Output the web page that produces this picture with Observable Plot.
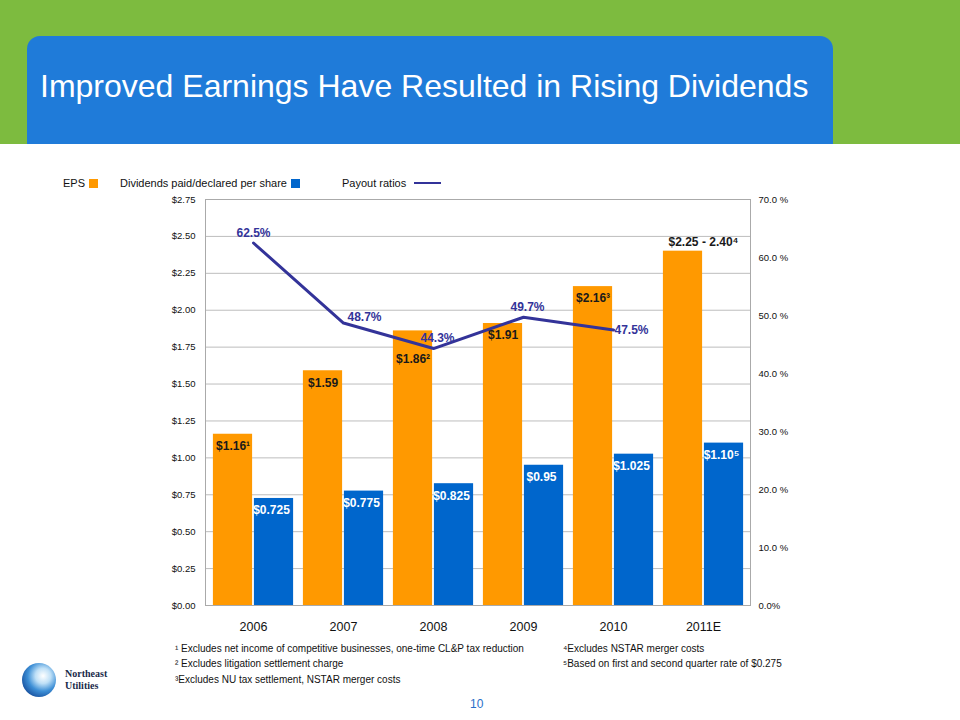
<!DOCTYPE html>
<html>
<head>
<meta charset="utf-8">
<script src="https://cdn.jsdelivr.net/npm/d3@7"></script>
<script src="https://cdn.jsdelivr.net/npm/@observablehq/plot@0.6"></script>
<style>
  html, body { margin: 0; padding: 0; background: #fff; }
  body { width: 960px; height: 720px; position: relative; overflow: hidden; font-family: "Liberation Sans", Arial, sans-serif; }
  #band { position: absolute; left: 0; top: 0; width: 960px; height: 144px; background: #7dbb3f; }
  #titlebox { position: absolute; left: 27px; top: 36px; width: 806px; height: 108px; background: #1f7bd9; border-radius: 13px 13px 0 0; }
  #title { position: absolute; left: 40px; top: 70px; color: #fff; font-size: 32px; line-height: 32px; white-space: nowrap; }
  #legend { position: absolute; top: 177px; left: 63px; font-size: 11px; color: #111; white-space: nowrap; }
  #legend span.item { position: absolute; top: 0; }
  .sw { display: inline-block; width: 9px; height: 9px; vertical-align: -1px; margin-left: 4px; }
  .ln { display: inline-block; width: 27px; height: 2px; background: #333399; vertical-align: 3px; margin-left: 8px; }
  #chart { position: absolute; left: 0; top: 180px; }
  .fn { position: absolute; font-size: 10px; color: #111; white-space: nowrap; }
  #page { position: absolute; left: 470px; top: 697px; font-size: 12px; color: #2a6fc9; }
  #logo { position: absolute; left: 20px; top: 660px; }
  #logotext { position: absolute; left: 65px; top: 668px; font-family: "Liberation Serif", "DejaVu Serif", serif; font-weight: bold; font-size: 10px; line-height: 12px; color: #1a2a4a; }
</style>
</head>
<body>
<div id="band"></div>
<div id="titlebox"></div>
<div id="title">Improved Earnings Have Resulted in Rising Dividends</div>
<div id="legend"></div>
<div id="chart"></div>
<div class="fn" style="left:175px;top:643px">¹ Excludes net income of competitive businesses, one-time CL&amp;P tax reduction</div>
<div class="fn" style="left:175px;top:658px">² Excludes litigation settlement charge</div>
<div class="fn" style="left:175px;top:674px">³Excludes NU tax settlement, NSTAR merger costs</div>
<div class="fn" style="left:563px;top:643px">⁴Excludes NSTAR merger costs</div>
<div class="fn" style="left:563px;top:658px">⁵Based on first and second quarter rate of $0.275</div>
<div id="page">10</div>
<svg id="logo" width="40" height="40" viewBox="0 0 40 40">
  <defs>
    <radialGradient id="lg" cx="0.62" cy="0.38" r="0.75">
      <stop offset="0" stop-color="#ffffff"/>
      <stop offset="0.3" stop-color="#bfe0f7"/>
      <stop offset="0.6" stop-color="#3d8fd6"/>
      <stop offset="1" stop-color="#0d3f8f"/>
    </radialGradient>
  </defs>
  <circle cx="19" cy="20" r="17" fill="url(#lg)"/>
</svg>
<div id="logotext">Northeast<br>Utilities</div>
<script>
// ---- data ----
const years = ["2006", "2007", "2008", "2009", "2010", "2011E"];
const eps = [1.16, 1.59, 1.86, 1.91, 2.16, 2.40];
const epsLabels = ["$1.16¹", "$1.59", "$1.86²", "$1.91", "$2.16³", "$2.25 - 2.40⁴"];
const dividends = [0.725, 0.775, 0.825, 0.95, 1.025, 1.10];
const dividendLabels = ["$0.725", "$0.775", "$0.825", "$0.95", "$1.025", "$1.10⁵"];
const payout = [62.5, 48.7, 44.3, 49.7, 47.5, null];
const payoutLabels = ["62.5%", "48.7%", "44.3%", "49.7%", "47.5%", ""];
const leftTicks = [0, 0.25, 0.5, 0.75, 1.0, 1.25, 1.5, 1.75, 2.0, 2.25, 2.5, 2.75];
const rightTicks = [0, 10, 20, 30, 40, 50, 60, 70];
const legendItems = ["EPS", "Dividends paid/declared per share", "Payout ratios"];

// ---- legend ----
const colors = { eps: "#ff9900", div: "#0066cc", line: "#333399" };
const leg = document.getElementById("legend");
leg.innerHTML =
  `<span class="item" style="left:0">${legendItems[0]}<span class="sw" style="background:${colors.eps}"></span></span>` +
  `<span class="item" style="left:57px">${legendItems[1]}<span class="sw" style="background:${colors.div}"></span></span>` +
  `<span class="item" style="left:279px">${legendItems[2]}<span class="ln"></span></span>`;

// ---- table ----
const yMax = 2.75, pMax = 70;
const toY = p => p * yMax / pMax;
const rows = years.map((y, i) => ({
  year: y, eps: eps[i], epsLabel: epsLabels[i],
  div: dividends[i], divLabel: dividendLabels[i],
  payout: payout[i], payoutLabel: payoutLabels[i]
}));
const pRows = rows.filter(d => d.payout != null);
const pick = (arr, ys) => arr.filter(d => ys.includes(d.year));

const lblFont = { fontSize: 12, fontWeight: "bold", fontFamily: "Liberation Sans, Arial, sans-serif" };

const chart = Plot.plot({
  width: 960,
  height: 460,
  marginTop: 19,
  marginBottom: 35,
  marginLeft: 205,
  marginRight: 210,
  style: { fontFamily: "Liberation Sans, Arial, sans-serif", fontSize: "9px", color: "#111", background: "transparent" },
  x: { type: "band", domain: years, padding: 0, axis: null, label: null },
  y: { domain: [0, yMax], axis: null, label: null },
  marks: [
    Plot.gridY(leftTicks, { stroke: "#bdbdbd", strokeOpacity: 1 }),
    Plot.barY(rows, { x: "year", y: "eps", fill: colors.eps, insetLeft: 4.9, insetRight: 45.9 }),
    Plot.barY(rows, { x: "year", y: "div", fill: colors.div, insetLeft: 45.9, insetRight: 4.9 }),
    Plot.frame({ stroke: "#aaaaaa" }),
    Plot.line(pRows, { x: "year", y: d => toY(d.payout), stroke: colors.line, strokeWidth: 3 }),
    Plot.axisY(leftTicks, { anchor: "left", label: null, tickSize: 0, tickPadding: 10, tickFormat: d => "$" + d.toFixed(2), fontSize: 9.5 }),
    Plot.axisY(rightTicks.map(toY), { anchor: "right", label: null, tickSize: 0, tickPadding: 8, fontSize: 9.5,
      tickFormat: d => { const p = Math.round(d * pMax / yMax); return p === 0 ? "0.0%" : p.toFixed(1) + " %"; } }),
    Plot.axisX({ anchor: "bottom", label: null, tickSize: 0, tickPadding: 17, fontSize: 12.5 }),
    // EPS labels (inside orange bars)
    Plot.text(pick(rows, ["2006", "2007", "2009", "2010"]), { x: "year", y: "eps", text: "epsLabel", dx: -20.4, dy: 12, fill: "#1a1a1a", ...lblFont }),
    Plot.text(pick(rows, ["2008"]), { x: "year", y: "eps", text: "epsLabel", dx: -20.4, dy: 28, fill: "#1a1a1a", ...lblFont }),
    Plot.text(pick(rows, ["2011E"]), { x: "year", y: "eps", text: "epsLabel", dx: 0, dy: -9, fill: "#1a1a1a", ...lblFont }),
    // Dividend labels (inside blue bars)
    Plot.text(rows, { x: "year", y: "div", text: "divLabel", dx: 18, dy: 12, fill: "#ffffff", ...lblFont }),
    // Payout labels
    Plot.text(pick(pRows, ["2006"]), { x: "year", y: d => toY(d.payout), text: "payoutLabel", dy: -10, fill: colors.line, ...lblFont }),
    Plot.text(pick(pRows, ["2007"]), { x: "year", y: d => toY(d.payout), text: "payoutLabel", textAnchor: "start", dx: 4, dy: -6, fill: colors.line, ...lblFont }),
    Plot.text(pick(pRows, ["2008", "2009"]), { x: "year", y: d => toY(d.payout), text: "payoutLabel", dx: 4, dy: -10, fill: colors.line, ...lblFont }),
    Plot.text(pick(pRows, ["2010"]), { x: "year", y: d => toY(d.payout), text: "payoutLabel", textAnchor: "start", dx: 1, dy: 0, fill: colors.line, ...lblFont })
  ]
});
document.getElementById("chart").appendChild(chart);
</script>
</body>
</html>
